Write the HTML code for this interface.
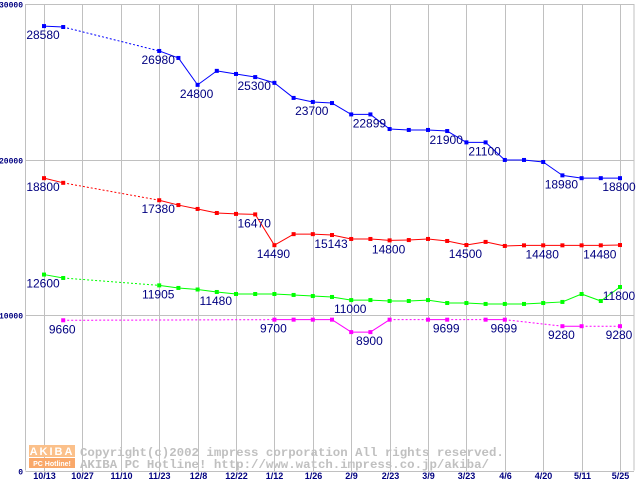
<!DOCTYPE html>
<html><head><meta charset="utf-8"><style>
html,body{margin:0;padding:0;background:#fff;width:640px;height:480px;overflow:hidden}
svg{display:block}
</style></head><body>
<svg id="chart" width="640" height="480" xmlns="http://www.w3.org/2000/svg" font-family="'Liberation Sans', sans-serif">
<g id="grid"></g>
<g id="yticks"></g>
<g id="xticks"></g>
<g id="watermark">
 <rect x="29" y="445" width="46" height="12" fill="#fbc08a"/>
 <text x="52" y="455" font-size="11" font-weight="bold" fill="#fff" text-anchor="middle" letter-spacing="2">AKIBA</text>
 <rect x="29" y="458" width="46" height="10" fill="#f9a86a"/>
 <text x="52" y="466" font-size="7" font-weight="bold" fill="#fff" text-anchor="middle">PC Hotline!</text>
 <text x="80" y="456" font-family="'Liberation Mono', monospace" font-size="12.4" font-weight="bold" fill="#c0c0c0">Copyright(c)2002 impress corporation All rights reserved.</text>
 <text x="80" y="468" font-family="'Liberation Mono', monospace" font-size="12.4" font-weight="bold" fill="#c0c0c0">AKIBA PC Hotline!  http://www.watch.impress.co.jp/akiba/</text>
</g>
<g id="series"></g>
</svg>
<script>
const dates = ["10/13","10/27","11/10","11/23","12/8","12/22","1/12","1/26","2/9","2/23","3/9","3/23","4/6","4/20","5/11","5/25"];
const yTicks = [0,10000,20000,30000];
const blueValues = [28580,28520,null,null,null,null,26980,26530,24800,25700,25500,25300,24930,23960,23700,23630,22899,22899,21960,21900,21900,21830,21100,21100,19970,19970,19840,18980,18800,18800,18800];
const redValues = [18800,18500,null,null,null,null,17380,17070,16820,16560,16500,16470,14490,15200,15200,15143,14890,14890,14800,14820,14890,14760,14500,14700,14440,14480,14480,14480,14480,14480,14500];
const greenValues = [12600,12380,null,null,null,null,11905,11740,11640,11480,11350,11350,11350,11290,11220,11160,10960,10960,10900,10900,10960,10770,10770,10710,10710,10710,10770,10840,11350,10900,11800];
const magentaValues = [null,9660,null,null,null,null,null,null,null,null,null,null,9700,9700,9700,9700,8900,8900,9699,null,9699,9699,null,9699,9699,null,null,9280,9280,null,9280];
const blueLabelIdx = [0,6,8,11,14,17,21,23,27,30];
const blueLabelText = ["28580","26980","24800","25300","23700","22899","21900","21100","18980","18800"];
const redLabelIdx = [0,6,11,12,15,18,22,26,29];
const redLabelText = ["18800","17380","16470","14490","15143","14800","14500","14480","14480"];
const greenLabelIdx = [0,6,9,16,30];
const greenLabelText = ["12600","11905","11480","11000","11800"];
const magentaLabelIdx = [1,12,17,21,24,27,30];
const magentaLabelText = ["9660","9700","8900","9699","9699","9280","9280"];

const NS="http://www.w3.org/2000/svg";
const X0=44, DX=19.2, YB=470.5, YT=4, VMAX=30000;
function xPos(i){return X0+i*DX;}
function yPos(v){return YB-(v/VMAX)*(YB-YT);}
function mk(tag,attrs,parent){const e=document.createElementNS(NS,tag);for(const k in attrs)e.setAttribute(k,attrs[k]);parent.appendChild(e);return e;}
const grid=document.getElementById('grid'), yt=document.getElementById('yticks'), xt=document.getElementById('xticks'), ser=document.getElementById('series');
const plotL=25.5, plotR=634;
yTicks.forEach(v=>{
  const y=Math.round(yPos(v))+0.5;
  const l=mk('line',{x1:plotL,x2:plotR,y1:y,y2:y,stroke:'#c0c0c0','stroke-width':1},grid);
  
  
  const t=mk('text',{x:23,y:y+3,'text-anchor':'end','font-size':8,'font-weight':'bold',fill:'#000080','font-family':"'Liberation Mono', monospace"},yt);
  t.textContent=v;
  
  
});
const ax=mk('line',{x1:plotL,x2:plotL,y1:YT,y2:YB,stroke:'#c0c0c0'},grid);


const rx=mk('line',{x1:plotR,x2:plotR,y1:YT,y2:YB,stroke:'#c0c0c0'},grid);


dates.forEach((d,k)=>{
  const x=Math.round(xPos(k*2))+0.5;
  const l=mk('line',{x1:x,x2:x,y1:YT,y2:YB+4,stroke:'#c0c0c0'},grid);
  
  
  const t=mk('text',{x:x,y:479,'text-anchor':'middle','font-size':9,'font-weight':'bold',fill:'#000080'},xt);
  t.textContent=d;
  
  
});
function drawSeries(vals,color,name,lIdx,lText){
  const g=mk('g',{},ser);
  
  
  let prev=-1;
  for(let i=0;i<vals.length;i++){
    if(vals[i]==null)continue;
    if(prev>=0){
      const seg=mk('line',{x1:xPos(prev),y1:yPos(vals[prev]),x2:xPos(i),y2:yPos(vals[i]),stroke:color,'stroke-width':1},g);
      if(i-prev>1)seg.setAttribute('stroke-dasharray','2,2');
      
      
    }
    prev=i;
  }
  vals.forEach((v,i)=>{
    if(v==null)return;
    const r=mk('rect',{x:xPos(i)-2,y:yPos(v)-2,width:4,height:4,fill:color},g);
    
    
  });
  lIdx.forEach((i,k)=>{
    const t=mk('text',{x:xPos(i)-1,y:yPos(vals[i])+13,'text-anchor':'middle','font-size':12,fill:'#000080'},g);
    t.textContent=lText[k];
    
    
  });
}
drawSeries(blueValues,'#0000ff','blue',blueLabelIdx,blueLabelText);
drawSeries(redValues,'#ff0000','red',redLabelIdx,redLabelText);
drawSeries(greenValues,'#00ff00','green',greenLabelIdx,greenLabelText);
drawSeries(magentaValues,'#ff00ff','magenta',magentaLabelIdx,magentaLabelText);
</script>
</body></html>
